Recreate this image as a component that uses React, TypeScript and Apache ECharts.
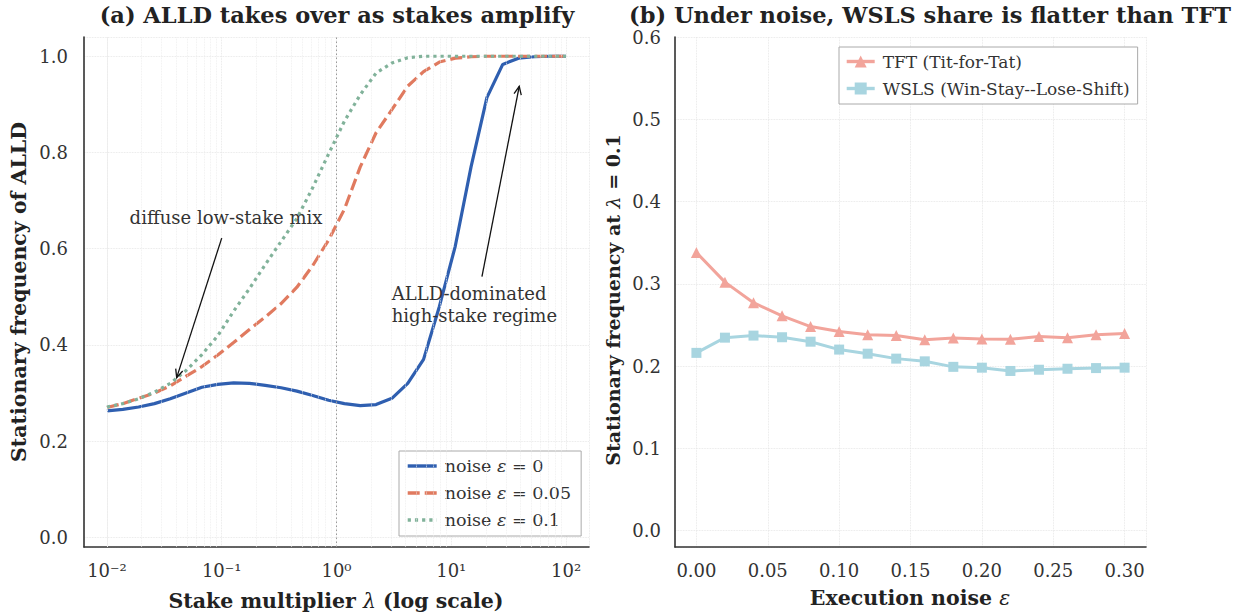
import React, { useEffect, useRef } from 'react';
import * as echarts from 'echarts';

// ---------- Panel (a) data ----------
const lambdas = [0.01, 0.01374, 0.01887, 0.02593, 0.03562, 0.04894, 0.06723, 0.09237, 0.1269, 0.1743, 0.2395, 0.329, 0.452, 0.621, 0.8532, 1.172, 1.61, 2.212, 3.039, 4.175, 5.736, 7.88, 10.83, 14.87, 20.43, 28.07, 38.57, 52.98, 72.79, 100];
const alldNoise0 = [0.263, 0.266, 0.271, 0.278, 0.288, 0.300, 0.312, 0.318, 0.321, 0.320, 0.316, 0.311, 0.304, 0.295, 0.285, 0.278, 0.274, 0.276, 0.289, 0.320, 0.370, 0.480, 0.605, 0.770, 0.914, 0.983, 0.996, 0.999, 1.0, 1.0];
const alldNoise005 = [0.270, 0.278, 0.289, 0.300, 0.315, 0.335, 0.355, 0.379, 0.405, 0.432, 0.458, 0.486, 0.520, 0.565, 0.618, 0.682, 0.770, 0.841, 0.889, 0.938, 0.968, 0.988, 0.996, 0.999, 1.0, 1.0, 1.0, 1.0, 1.0, 1.0];
const alldNoise01 = [0.271, 0.278, 0.288, 0.302, 0.320, 0.347, 0.380, 0.419, 0.470, 0.517, 0.567, 0.615, 0.663, 0.727, 0.797, 0.865, 0.920, 0.965, 0.986, 0.997, 1.0, 1.0, 1.0, 1.0, 1.0, 1.0, 1.0, 1.0, 1.0, 1.0];
const seriesNamesA = ['noise ε = 0', 'noise ε = 0.05', 'noise ε = 0.1'];

// ---------- Panel (b) data ----------
const noiseLevels = [0.0, 0.02, 0.04, 0.06, 0.08, 0.10, 0.12, 0.14, 0.16, 0.18, 0.20, 0.22, 0.24, 0.26, 0.28, 0.30];
const tftShare = [0.338, 0.302, 0.277, 0.261, 0.248, 0.242, 0.238, 0.237, 0.232, 0.234, 0.233, 0.2325, 0.236, 0.2345, 0.238, 0.2395];
const wslsShare = [0.216, 0.2345, 0.237, 0.235, 0.2296, 0.220, 0.215, 0.209, 0.2057, 0.199, 0.198, 0.194, 0.1955, 0.1967, 0.1975, 0.198];
const seriesNamesB = ['TFT (Tit-for-Tat)', 'WSLS (Win-Stay--Lose-Shift)'];

// ---------- Text ----------
const titleA = '(a) ALLD takes over as stakes amplify';
const titleB = '(b) Under noise, WSLS share is flatter than TFT';
const annoLow = 'diffuse low-stake mix';
const annoHigh = 'ALLD-dominated\nhigh-stake regime';

const FONT = 'DejaVu Serif';
const C_BLUE = '#2f5fb0';
const C_ORANGE = '#e07a5f';
const C_GREEN = '#81b29a';
const C_TFT = '#f2a49b';
const C_WSLS = '#a8d5e0';
const GRID_C = '#e2e2e2';
const TICK_FS = 18;
const LABEL_FS = 20.5;

const supMap: Record<string, string> = { '-': '⁻', '0': '⁰', '1': '¹', '2': '²', '3': '³' };

function minorLogValues(lo: number, hi: number): number[] {
  const out: number[] = [];
  for (let d = -3; d <= 2; d++) {
    for (let m = 2; m <= 9; m++) {
      const v = m * Math.pow(10, d);
      if (v > lo && v < hi) out.push(v);
    }
  }
  return out;
}

export default function App() {
  const ref = useRef<HTMLDivElement>(null);
  useEffect(() => {
    if (!ref.current) return;
    const chart = echarts.init(ref.current, undefined, { renderer: 'svg' });
    const xMinA = Math.pow(10, -2.2);
    const xMaxA = Math.pow(10, 2.2);

    const pairs = (xs: number[], ys: number[]) => xs.map((x, i) => [x, ys[i]]);
    const legendRich = {
      n: { fontFamily: FONT, fontSize: 17.5, color: '#333' },
      e: { fontFamily: FONT, fontSize: 17.5, color: '#333', fontStyle: 'italic' },
    };
    const axisCommon = {
      axisLine: { show: true, onZero: false, lineStyle: { color: '#333', width: 1.6 } },
      axisTick: { show: false },
      splitLine: { show: true, lineStyle: { type: 'dotted', color: GRID_C, width: 0.8 } },
    };

    const option: any = {
      animation: false,
      backgroundColor: '#ffffff',
      textStyle: { fontFamily: FONT },
      grid: [
        { left: 84, right: 1253 - 589, top: 37, bottom: 614 - 547 },
        { left: 675, right: 1253 - 1146, top: 37, bottom: 614 - 547 },
      ],
      xAxis: [
        {
          type: 'log', gridIndex: 0, logBase: 10, min: xMinA, max: xMaxA, ...axisCommon,
          axisLabel: {
            fontSize: TICK_FS, color: '#333', fontFamily: FONT, margin: 14,
            formatter: (v: number) => {
              const l = Math.log10(v);
              const e = Math.round(l);
              if (Math.abs(l - e) > 1e-6 || e < -2 || e > 2) return '';
              return '10' + String(e).split('').map((c) => supMap[c]).join('');
            },
          },
        },
        {
          type: 'value', gridIndex: 1, min: -0.015, max: 0.315, splitNumber: 6, ...axisCommon,
          axisLabel: {
            fontSize: TICK_FS, color: '#333', fontFamily: FONT, margin: 14,
            formatter: (v: number) => (Math.abs(v * 20 - Math.round(v * 20)) < 1e-6 ? v.toFixed(2) : ''),
          },
        },
      ],
      yAxis: [
        {
          type: 'value', gridIndex: 0, min: -0.02, max: 1.04, splitNumber: 5, ...axisCommon,
          axisLabel: {
            fontSize: TICK_FS, color: '#333', fontFamily: FONT, margin: 16,
            formatter: (v: number) => (Math.abs(v * 5 - Math.round(v * 5)) < 1e-6 ? v.toFixed(1) : ''),
          },
        },
        {
          type: 'value', gridIndex: 1, min: -0.02, max: 0.6, splitNumber: 6, ...axisCommon,
          axisLabel: {
            fontSize: TICK_FS, color: '#333', fontFamily: FONT, margin: 14,
            formatter: (v: number) => (Math.abs(v * 10 - Math.round(v * 10)) < 1e-6 ? v.toFixed(1) : ''),
          },
        },
      ],
      legend: [
        {
          data: seriesNamesA,
          orient: 'vertical', left: 399, top: 451,
          itemWidth: 29, itemHeight: 14, itemGap: 9,
          padding: [6, 10, 7, 7],
          itemStyle: { opacity: 0 },
          lineStyle: { width: 3.4 },
          borderColor: '#aaaaaa', borderWidth: 1, backgroundColor: '#ffffff',
          textStyle: { fontSize: 17.5, color: '#333', fontFamily: FONT, rich: legendRich, padding: [0, 0, 0, 3] },
          formatter: (name: string) => {
            const v = name.split('= ')[1];
            return `{n|noise }{e|ε}{n| = ${v}}`;
          },
        },
        {
          data: seriesNamesB,
          orient: 'vertical', left: 839, top: 47,
          itemWidth: 28, itemHeight: 15, itemGap: 10,
          padding: [6, 8, 7, 6],
          lineStyle: { width: 3.4 },
          borderColor: '#aaaaaa', borderWidth: 1, backgroundColor: '#ffffff',
          textStyle: { fontSize: 17, color: '#333', fontFamily: FONT, padding: [0, 0, 0, 3] },
        },
      ],
      series: [
        {
          name: '_minorgrid', type: 'line', xAxisIndex: 0, yAxisIndex: 0, data: [], silent: true, z: 0,
          markLine: {
            silent: true, symbol: 'none', label: { show: false },
            lineStyle: { type: 'dotted', color: '#ececec', width: 0.8 },
            data: minorLogValues(xMinA, xMaxA).map((v) => ({ xAxis: v })),
          },
        },
        {
          name: '_vline', type: 'line', xAxisIndex: 0, yAxisIndex: 0, data: [], silent: true, z: 1,
          markLine: {
            silent: true, symbol: 'none', label: { show: false },
            lineStyle: { type: [1.5, 2.5], color: '#999999', width: 1 },
            data: [{ xAxis: 1 }],
          },
        },
        {
          name: seriesNamesA[0], type: 'line', xAxisIndex: 0, yAxisIndex: 0, symbol: 'none', z: 3,
          data: pairs(lambdas, alldNoise0),
          lineStyle: { color: C_BLUE, width: 3.2 }, itemStyle: { color: C_BLUE },
        },
        {
          name: seriesNamesA[1], type: 'line', xAxisIndex: 0, yAxisIndex: 0, symbol: 'none', z: 4,
          data: pairs(lambdas, alldNoise005),
          lineStyle: { color: C_ORANGE, width: 3.2, type: [12, 5] }, itemStyle: { color: C_ORANGE },
        },
        {
          name: seriesNamesA[2], type: 'line', xAxisIndex: 0, yAxisIndex: 0, symbol: 'none', z: 5,
          data: pairs(lambdas, alldNoise01),
          lineStyle: { color: C_GREEN, width: 3.2, type: [3.2, 4] }, itemStyle: { color: C_GREEN },
        },
        {
          name: seriesNamesB[0], type: 'line', xAxisIndex: 1, yAxisIndex: 1,
          symbol: 'triangle', symbolSize: 11, showSymbol: true,
          data: pairs(noiseLevels, tftShare),
          lineStyle: { color: C_TFT, width: 3 }, itemStyle: { color: C_TFT },
        },
        {
          name: seriesNamesB[1], type: 'line', xAxisIndex: 1, yAxisIndex: 1,
          symbol: 'rect', symbolSize: 10, showSymbol: true,
          data: pairs(noiseLevels, wslsShare),
          lineStyle: { color: C_WSLS, width: 3 }, itemStyle: { color: C_WSLS },
        },
      ],
    };
    chart.setOption(option);

    // ---- annotations and titles (annotation positions from data coordinates) ----
    const toPx = (p: number[]) => chart.convertToPixel({ xAxisIndex: 0, yAxisIndex: 0 } as any, p) as number[];
    const arrow = (tail: number[], tip: number[]) => {
      const a = toPx(tail), b = toPx(tip);
      const dx = b[0] - a[0], dy = b[1] - a[1];
      const len = Math.hypot(dx, dy);
      const bx = -dx / len, by = -dy / len;
      const hl = 9, ang = 0.42;
      const rot = (s: number) => [b[0] + hl * (bx * Math.cos(s) - by * Math.sin(s)), b[1] + hl * (bx * Math.sin(s) + by * Math.cos(s))];
      return [
        { type: 'line', shape: { x1: a[0], y1: a[1], x2: b[0], y2: b[1] }, style: { stroke: '#111', lineWidth: 1.3 }, z: 50 },
        { type: 'polyline', shape: { points: [rot(ang), b, rot(-ang)] }, style: { stroke: '#111', lineWidth: 1.3, fill: null }, z: 50 },
      ];
    };
    const lowTxt = toPx([0.109, 0.664]);
    const highTxt = toPx([3.03, 0.484]);
    const boldRich = (fs: number) => ({
      b: { fontFamily: FONT, fontSize: fs, fontWeight: 'bold', fill: '#222' },
      m: { fontFamily: FONT, fontSize: fs, fontStyle: 'italic', fill: '#222' },
    });
    const graphic: any[] = [
      ...arrow([0.1, 0.622], [0.0405, 0.332]),
      ...arrow([18.5, 0.542], [39.1, 0.9375]),
      {
        type: 'text', x: lowTxt[0], y: lowTxt[1], z: 50,
        style: { text: annoLow, fontFamily: FONT, fontSize: 18, fill: '#333', align: 'center', verticalAlign: 'middle' },
      },
      {
        type: 'text', x: highTxt[0], y: highTxt[1], z: 50,
        style: { text: annoHigh, fontFamily: FONT, fontSize: 18, lineHeight: 21.7, fill: '#333', align: 'left', verticalAlign: 'middle' },
      },
      {
        type: 'text', x: 337, y: 15, z: 50,
        style: { text: titleA, fontFamily: FONT, fontSize: 22.5, fontWeight: 'bold', fill: '#222', align: 'center', verticalAlign: 'middle' },
      },
      {
        type: 'text', x: 930, y: 15, z: 50,
        style: { text: titleB, fontFamily: FONT, fontSize: 22.5, fontWeight: 'bold', fill: '#222', align: 'center', verticalAlign: 'middle' },
      },
      {
        type: 'text', x: 336, y: 601, z: 50,
        style: { text: '{b|Stake multiplier }{m|λ}{b| (log scale)}', align: 'center', verticalAlign: 'middle', rich: boldRich(LABEL_FS) },
      },
      {
        type: 'text', x: 910, y: 598, z: 50,
        style: { text: '{b|Execution noise }{m|ε}', align: 'center', verticalAlign: 'middle', rich: boldRich(LABEL_FS) },
      },
      {
        type: 'text', x: 19, y: 292, rotation: Math.PI / 2, z: 50,
        style: { text: '{b|Stationary frequency of ALLD}', align: 'center', verticalAlign: 'middle', rich: boldRich(LABEL_FS) },
      },
      {
        type: 'text', x: 613, y: 300, rotation: Math.PI / 2, z: 50,
        style: { text: '{b|Stationary frequency at }{m|λ}{b| = 0.1}', align: 'center', verticalAlign: 'middle', rich: boldRich(19) },
      },
    ];
    chart.setOption({ graphic });

    return () => chart.dispose();
  }, []);
  return <div ref={ref} style={{ position: 'absolute', left: 0, top: 0, width: 1253, height: 614 }} />;
}
